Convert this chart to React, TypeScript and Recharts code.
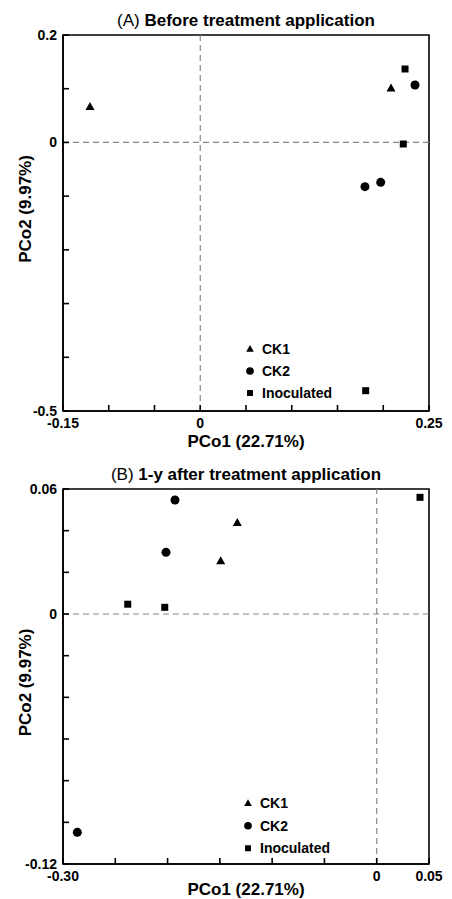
import React from 'react';
import { ScatterChart, Scatter, XAxis, YAxis, ReferenceLine, ReferenceArea, Legend } from 'recharts';

const FONT = '"Liberation Sans", Arial, Helvetica, sans-serif';

// ---------- Panel A: Before treatment application ----------
const aCK1 = [
  { x: -0.1205, y: 0.0665 },
  { x: 0.2085, y: 0.1007 },
];
const aCK2 = [
  { x: 0.2347, y: 0.1069 },
  { x: 0.18, y: -0.0824 },
  { x: 0.1972, y: -0.0743 },
];
const aInoc = [
  { x: 0.2238, y: 0.1367 },
  { x: 0.2219, y: -0.0029 },
  { x: 0.1808, y: -0.4622 },
];
const aXDomain = [-0.15, 0.25];
const aYDomain = [-0.5, 0.2];
const aXTicks = [-0.15, -0.1, -0.05, 0, 0.05, 0.1, 0.15, 0.2, 0.25];
const aYTicks = [-0.5, -0.4, -0.3, -0.2, -0.1, 0, 0.1, 0.2];
const aXLabels: Record<string, string> = { '-0.15': '-0.15', '0': '0', '0.25': '0.25' };
const aYLabels: Record<string, string> = { '-0.5': '-0.5', '0': '0', '0.2': '0.2' };

// ---------- Panel B: 1-y after treatment application ----------
const bCK1 = [
  { x: -0.1333, y: 0.0438 },
  { x: -0.1492, y: 0.0254 },
];
const bCK2 = [
  { x: -0.1929, y: 0.0547 },
  { x: -0.2015, y: 0.0296 },
  { x: -0.2863, y: -0.1048 },
];
const bInoc = [
  { x: 0.0414, y: 0.056 },
  { x: -0.2381, y: 0.0047 },
  { x: -0.2027, y: 0.0032 },
];
const bXDomain = [-0.3, 0.05];
const bYDomain = [-0.12, 0.06];
const bXTicks = [-0.3, -0.25, -0.2, -0.15, -0.1, -0.05, 0, 0.05];
const bYTicks = [-0.12, -0.1, -0.08, -0.06, -0.04, -0.02, 0, 0.02, 0.04, 0.06];
const bXLabels: Record<string, string> = { '-0.3': '-0.30', '0': '0', '0.05': '0.05' };
const bYLabels: Record<string, string> = { '-0.12': '-0.12', '0': '0', '0.06': '0.06' };

const seriesNames = ['CK1', 'CK2', 'Inoculated'];
const xTitle = 'PCo1 (22.71%)';
const yTitle = 'PCo2 (9.97%)';
const titleA = ['(A) ', 'Before treatment application'];
const titleB = ['(B) ', '1-y after treatment application'];

function Marker({ kind, cx, cy, scale = 1 }: any) {
  if (kind === 'triangle') {
    const w = 9 * scale;
    const h = 8 * scale;
    return (
      <path
        d={`M${cx},${cy - h * 0.6}L${cx + w / 2},${cy + h * 0.4}L${cx - w / 2},${cy + h * 0.4}Z`}
        fill="#000"
      />
    );
  }
  if (kind === 'circle') {
    return <circle cx={cx} cy={cy} r={4.5 * scale} fill="#000" />;
  }
  const s = 7 * scale;
  return <rect x={cx - s / 2} y={cy - s / 2} width={s} height={s} fill="#000" />;
}

const tickStyle = { fill: '#000', fontSize: 14, fontWeight: 'bold', fontFamily: FONT };

function Panel({
  width,
  height,
  margin,
  ck1,
  ck2,
  inoc,
  xDomain,
  yDomain,
  xTicks,
  yTicks,
  xLabels,
  yLabels,
  xTitleDy,
  yTitleDy,
  legendPos,
  rowGap,
}: any) {
  const fmt = (labels: Record<string, string>) => (v: number) => {
    const key = String(Math.round(v * 1000) / 1000);
    return labels[key] ?? '';
  };
  const LegendContent = (props: any) => {
    const payload = props.payload || [];
    return (
      <svg width={110} height={rowGap * 3} style={{ display: 'block', overflow: 'visible' }}>
        {payload.map((e: any, i: number) => {
          const cy = rowGap / 2 + i * rowGap;
          return (
            <g key={i}>
              <Marker kind={e.type} cx={6} cy={cy} scale={0.85} />
              <text
                x={18}
                y={cy + 5}
                fontSize={14}
                fontWeight="bold"
                fontFamily={FONT}
                fill="#000"
              >
                {e.value}
              </text>
            </g>
          );
        })}
      </svg>
    );
  };
  const XTitle = (props: any) => {
    const vb = props.viewBox;
    return (
      <text
        x={vb.x + vb.width / 2}
        y={vb.y + xTitleDy}
        textAnchor="middle"
        fontSize={17}
        fontWeight="bold"
        fontFamily={FONT}
        fill="#000"
      >
        {xTitle}
      </text>
    );
  };
  const YTitle = (props: any) => {
    const vb = props.viewBox;
    const cx = vb.x + vb.width - 38;
    const cy = vb.y + vb.height / 2 + yTitleDy;
    return (
      <text
        x={cx}
        y={cy}
        transform={`rotate(-90, ${cx}, ${cy})`}
        textAnchor="middle"
        dominantBaseline="central"
        fontSize={17}
        fontWeight="bold"
        fontFamily={FONT}
        fill="#000"
      >
        {yTitle}
      </text>
    );
  };
  const axisLine = { stroke: '#000', strokeWidth: 1.6 };
  return (
    <ScatterChart width={width} height={height} margin={margin} style={{ overflow: 'visible' }}>
      <XAxis
        type="number"
        dataKey="x"
        domain={xDomain}
        ticks={xTicks}
        interval={0}
        allowDataOverflow
        tickFormatter={fmt(xLabels)}
        tickSize={-6}
        tickMargin={13}
        tick={tickStyle}
        tickLine={axisLine}
        axisLine={axisLine}
        height={30}
        label={{ content: XTitle }}
      />
      <YAxis
        type="number"
        dataKey="y"
        domain={yDomain}
        ticks={yTicks}
        interval={0}
        allowDataOverflow
        tickFormatter={fmt(yLabels)}
        tickSize={-6}
        tickMargin={12}
        tick={tickStyle}
        tickLine={axisLine}
        axisLine={axisLine}
        width={60}
        label={{ content: YTitle }}
      />
      <ReferenceArea
        x1={xDomain[0]}
        x2={xDomain[1]}
        y1={yDomain[0]}
        y2={yDomain[1]}
        fill="none"
        fillOpacity={0}
        stroke="#000"
        strokeWidth={1.6}
      />
      <ReferenceLine x={0} stroke="#888" strokeDasharray="6 4" strokeWidth={1.2} />
      <ReferenceLine y={0} stroke="#888" strokeDasharray="6 4" strokeWidth={1.2} />
      <Legend
        layout="vertical"
        align="center"
        verticalAlign="middle"
        content={LegendContent}
        wrapperStyle={{ left: legendPos.left, top: legendPos.top, width: 'auto', bottom: 'auto' }}
      />
      <Scatter
        name={seriesNames[0]}
        data={ck1}
        legendType="triangle"
        isAnimationActive={false}
        shape={(p: any) => <Marker kind="triangle" cx={p.cx} cy={p.cy} />}
      />
      <Scatter
        name={seriesNames[1]}
        data={ck2}
        legendType="circle"
        isAnimationActive={false}
        shape={(p: any) => <Marker kind="circle" cx={p.cx} cy={p.cy} />}
      />
      <Scatter
        name={seriesNames[2]}
        data={inoc}
        legendType="square"
        isAnimationActive={false}
        shape={(p: any) => <Marker kind="square" cx={p.cx} cy={p.cy} />}
      />
    </ScatterChart>
  );
}

function Title({ parts, top }: any) {
  return (
    <div
      style={{
        position: 'absolute',
        left: 63,
        width: 366,
        top,
        textAlign: 'center',
        fontFamily: FONT,
        fontSize: 17,
        lineHeight: '20px',
        color: '#000',
        whiteSpace: 'nowrap',
      }}
    >
      <span style={{ fontWeight: 'normal' }}>{parts[0]}</span>
      <span style={{ fontWeight: 'bold' }}>{parts[1]}</span>
    </div>
  );
}

export default function App() {
  return (
    <div style={{ position: 'absolute', left: 0, top: 0, width: 452, height: 899, background: '#fff' }}>
      <div style={{ position: 'absolute', left: 0, top: 0, width: 452, height: 450 }}>
        <Panel
          width={452}
          height={450}
          margin={{ top: 35, right: 23, bottom: 9, left: 3 }}
          ck1={aCK1}
          ck2={aCK2}
          inoc={aInoc}
          xDomain={aXDomain}
          yDomain={aYDomain}
          xTicks={aXTicks}
          yTicks={aYTicks}
          xLabels={aXLabels}
          yLabels={aYLabels}
          xTitleDy={36}
          yTitleDy={-14}
          legendPos={{ left: 244, top: 338 }}
          rowGap={22}
        />
        <Title parts={titleA} top={11} />
      </div>
      <div style={{ position: 'absolute', left: 0, top: 450, width: 452, height: 449 }}>
        <Panel
          width={452}
          height={449}
          margin={{ top: 39, right: 23, bottom: 5, left: 3 }}
          ck1={bCK1}
          ck2={bCK2}
          inoc={bInoc}
          xDomain={bXDomain}
          yDomain={bYDomain}
          xTicks={bXTicks}
          yTicks={bYTicks}
          xLabels={bXLabels}
          yLabels={bYLabels}
          xTitleDy={31}
          yTitleDy={6}
          legendPos={{ left: 242, top: 342 }}
          rowGap={22.5}
        />
        <Title parts={titleB} top={15} />
      </div>
    </div>
  );
}
